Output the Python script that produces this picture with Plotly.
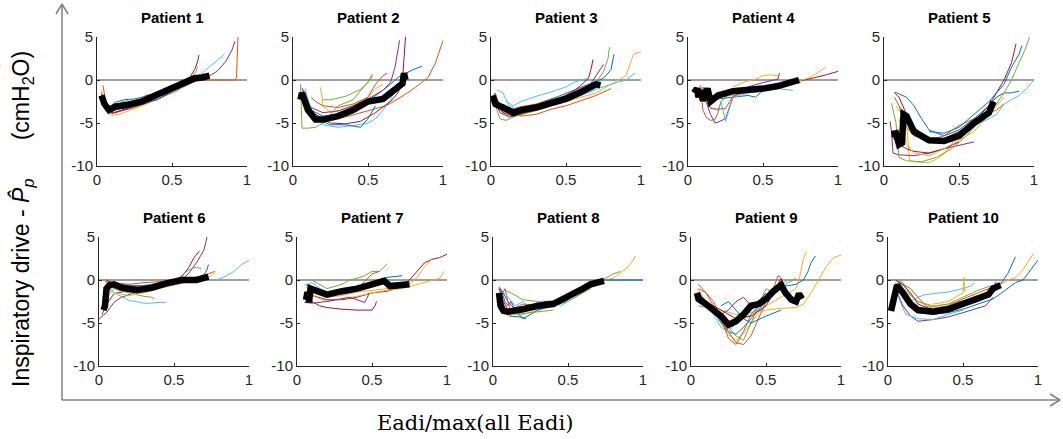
import plotly.graph_objects as go

W, H = 1063, 439
COLORS = ['#0072BD', '#D95319', '#EDB120', '#7E2F8E', '#77AC30', '#4DBEEE', '#A2142F']

titles = ["Patient %d" % i for i in range(1, 11)]
x_ticks = [0, 0.5, 1]
x_ticktext = ["0", "0.5", "1"]
y_ticks = [5, 0, -5, -10]
y_ticktext = ["5", "0", "-5", "-10"]

# ---- mean (thick black) curves ----
p1_mean = ([0.03, 0.05, 0.08, 0.12, 0.2, 0.3, 0.4, 0.5, 0.6, 0.65, 0.7, 0.75],
           [-1.8, -2.8, -3.5, -3.1, -2.9, -2.5, -1.7, -1.0, -0.2, 0.2, 0.3, 0.5])
p2_mean = ([0.05, 0.06, 0.1, 0.15, 0.2, 0.3, 0.4, 0.5, 0.6, 0.65, 0.7, 0.73, 0.74, 0.75],
           [-2.3, -1.5, -3.5, -4.6, -4.6, -4.2, -3.5, -2.5, -2.2, -1.5, -1.0, -0.4, 0.8, 0.0])
p3_mean = ([0.01, 0.03, 0.08, 0.15, 0.2, 0.3, 0.4, 0.5, 0.6, 0.65, 0.7, 0.73],
           [-1.8, -2.8, -3.2, -3.8, -3.5, -3.2, -2.7, -2.2, -1.4, -1.0, -0.5, -0.6])
p4_mean = ([0.04, 0.06, 0.07, 0.08, 0.1, 0.13, 0.15, 0.2, 0.3, 0.4, 0.5, 0.6, 0.7, 0.74],
           [-1.5, -1.0, -2.0, -1.2, -2.4, -1.0, -2.5, -1.8, -1.3, -1.2, -1.0, -0.7, -0.2, 0.0])
p5_mean = ([0.05, 0.08, 0.1, 0.12, 0.13, 0.15, 0.2, 0.3, 0.4, 0.5, 0.6, 0.7, 0.73],
           [-6.3, -6.2, -7.5, -7.3, -4.0, -4.2, -6.0, -7.0, -7.1, -6.5, -5.0, -3.8, -2.5])
p6_mean = ([0.03, 0.04, 0.05, 0.07, 0.1, 0.15, 0.25, 0.35, 0.45, 0.55, 0.65, 0.72, 0.73],
           [-3.5, -3.0, -1.0, -0.6, -0.5, -0.9, -1.2, -0.9, -0.4, 0.0, 0.0, 0.2, 0.4])
p7_mean = ([0.06, 0.07, 0.08, 0.09, 0.12, 0.2, 0.3, 0.4, 0.5, 0.58, 0.62, 0.7, 0.75],
           [-2.3, -1.4, -2.6, -1.0, -1.2, -1.7, -1.3, -1.0, -0.5, -0.1, -0.7, -0.6, -0.5])
p8_mean = ([0.04, 0.05, 0.07, 0.1, 0.2, 0.3, 0.4, 0.5, 0.6, 0.65, 0.7, 0.74],
           [-1.5, -3.0, -3.6, -3.7, -3.4, -3.0, -2.8, -2.0, -1.0, -0.5, -0.2, -0.1])
p9_mean = ([0.04, 0.05, 0.1, 0.15, 0.2, 0.25, 0.3, 0.35, 0.4, 0.45, 0.5, 0.55, 0.6, 0.63, 0.67, 0.7, 0.72, 0.74],
           [-1.5, -2.2, -2.8, -3.5, -4.2, -5.2, -4.8, -4.0, -3.0, -2.8, -2.2, -1.3, -0.6, -1.5, -2.3, -2.5, -1.6, -2.2])
p10_mean = ([0.02, 0.04, 0.06, 0.1, 0.15, 0.2, 0.3, 0.4, 0.5, 0.6, 0.67, 0.7, 0.75],
            [-3.6, -2.0, -0.6, -1.5, -2.8, -3.5, -3.7, -3.4, -2.8, -2.2, -1.7, -1.0, -0.6])

# ---- individual breaths (thin coloured lines): (x, y, colour index) ----
p1_lines = [
    ([0.03, 0.05, 0.08, 0.12, 0.18, 0.25, 0.3, 0.38, 0.45, 0.5, 0.55], [-1.5, -2.6, -3.3, -2.6, -2.3, -2.2, -2.0, -1.6, -1.8, -1.2, -1.0], 0),
    ([0.04, 0.06, 0.1, 0.15, 0.25, 0.35, 0.45, 0.55, 0.65, 0.75, 0.85, 0.92, 0.93, 0.935, 0.94], [-0.6, -2.8, -3.8, -3.6, -3.2, -2.6, -1.6, -0.8, -0.1, 0, 0, 0, 0.3, 3.0, 5.0], 1),
    ([0.03, 0.06, 0.1, 0.15, 0.22, 0.3, 0.4, 0.5, 0.55], [-1.2, -3.0, -4.1, -4.0, -3.5, -3.0, -2.2, -1.5, -1.2], 2),
    ([0.04, 0.07, 0.12, 0.2, 0.3, 0.4, 0.5, 0.6, 0.7, 0.75, 0.8, 0.86, 0.9, 0.92], [-1.8, -3.6, -3.8, -3.4, -2.8, -2.3, -1.4, -0.6, 0.2, 0.5, 1.0, 2.2, 3.5, 4.5], 3),
    ([0.03, 0.06, 0.1, 0.16, 0.2, 0.25, 0.35, 0.45, 0.55, 0.6, 0.64, 0.66, 0.67], [-1.5, -3.0, -3.6, -2.6, -2.4, -2.7, -2.4, -1.5, -0.7, -0.2, 0.5, 1.0, 1.6], 4),
    ([0.04, 0.08, 0.12, 0.2, 0.3, 0.4, 0.5, 0.6, 0.7, 0.75, 0.8, 0.85], [-2.0, -3.4, -3.3, -2.9, -2.5, -1.8, -1.2, -0.5, 0.8, 1.5, 2.2, 3.0], 5),
    ([0.03, 0.06, 0.1, 0.2, 0.3, 0.4, 0.5, 0.56, 0.6, 0.62, 0.65, 0.67, 0.68], [-1.7, -3.2, -3.9, -3.3, -2.6, -1.9, -1.0, -0.4, 0.0, 0.3, 1.2, 2.1, 2.9], 6),
    ([0.05, 0.08, 0.15, 0.25, 0.35, 0.4, 0.43, 0.5, 0.6], [-2.2, -3.1, -3.0, -2.8, -2.4, -2.3, -2.0, -1.3, -0.5], 0),
    ([0.05, 0.1, 0.2, 0.28, 0.32, 0.38, 0.45, 0.55], [-2.4, -3.6, -3.1, -2.5, -1.8, -1.6, -1.4, -0.3], 1),
]
p2_lines = [
    ([0.05, 0.08, 0.12, 0.2, 0.3, 0.4, 0.5, 0.6, 0.65, 0.7, 0.75, 0.8, 0.86], [-1.5, -2.5, -3.5, -4.2, -4.0, -3.5, -2.5, -1.2, -0.5, 0.3, 0.8, 1.2, 1.6], 0),
    ([0.04, 0.08, 0.15, 0.25, 0.35, 0.45, 0.55, 0.62, 0.7, 0.78, 0.85, 0.9, 0.95, 1.0], [-1.5, -3.0, -4.3, -4.6, -4.3, -3.8, -3.3, -3.0, -2.2, -1.3, -0.4, 0.3, 2.0, 4.6], 1),
    ([0.18, 0.19, 0.2, 0.25, 0.3, 0.4, 0.5, 0.55, 0.6], [-0.8, -1.5, -3.0, -3.8, -3.6, -3.0, -2.0, -1.0, -0.5], 2),
    ([0.06, 0.08, 0.12, 0.2, 0.3, 0.4, 0.5, 0.6, 0.65, 0.68, 0.7, 0.71], [-0.9, -2.0, -3.2, -3.8, -3.6, -3.0, -2.2, -1.2, -0.3, 1.5, 3.5, 4.6], 3),
    ([0.05, 0.06, 0.1, 0.15, 0.2, 0.25, 0.3, 0.4, 0.45, 0.5, 0.53], [-0.5, -5.6, -5.6, -5.5, -5.0, -4.0, -3.0, -2.3, -1.3, -0.2, 0.7], 4),
    ([0.08, 0.12, 0.2, 0.3, 0.4, 0.5, 0.55, 0.6, 0.65, 0.68], [-1.0, -3.5, -5.2, -5.5, -5.3, -5.0, -4.5, -3.5, -2.3, -1.2], 5),
    ([0.07, 0.1, 0.15, 0.25, 0.35, 0.45, 0.55, 0.65, 0.7, 0.73, 0.74, 0.75], [-1.2, -3.0, -4.0, -5.0, -5.1, -4.8, -3.8, -2.5, -1.5, 0.0, 2.5, 5.0], 6),
    ([0.1, 0.15, 0.25, 0.35, 0.45, 0.5, 0.55], [-2.5, -4.5, -5.2, -5.2, -5.5, -4.5, -3.0], 0),
    ([0.2, 0.25, 0.3, 0.35, 0.4, 0.45, 0.5, 0.53], [-2.3, -2.3, -2.1, -1.9, -1.5, -1.1, -0.3, 0.5], 4),
    ([0.12, 0.15, 0.2, 0.3, 0.4, 0.5, 0.55, 0.6, 0.63], [-2.0, -2.5, -3.0, -3.2, -2.8, -2.0, -0.5, 0.5, 0.8], 1),
]
p3_lines = [
    ([0.02, 0.05, 0.1, 0.15, 0.25, 0.35, 0.45, 0.55, 0.65, 0.75, 0.8, 0.82], [-1.5, -2.5, -3.5, -3.8, -3.2, -2.5, -1.9, -1.2, -0.5, 0.2, 1.2, 3.0], 0),
    ([0.02, 0.06, 0.12, 0.2, 0.3, 0.4, 0.5, 0.6, 0.7, 0.8, 0.85, 0.9, 0.95, 1.0], [-2.0, -3.5, -4.2, -4.0, -3.5, -3.0, -2.5, -2.0, -1.5, -0.5, 0.0, 0.5, 3.0, 3.3], 2),
    ([0.03, 0.05, 0.08, 0.12, 0.2, 0.3, 0.4, 0.5, 0.6, 0.7], [-1.5, -3.0, -3.8, -3.5, -3.1, -2.8, -2.3, -1.8, -1.0, -0.3], 1),
    ([0.02, 0.06, 0.12, 0.2, 0.3, 0.4, 0.5, 0.6, 0.65, 0.7, 0.75], [-2.2, -3.8, -4.3, -4.0, -3.5, -3.0, -2.3, -1.5, -0.8, 0.5, 1.8], 3),
    ([0.03, 0.06, 0.1, 0.15, 0.25, 0.35, 0.45, 0.55, 0.65, 0.7, 0.75, 0.78, 0.79], [-3.0, -4.5, -4.7, -4.3, -3.8, -3.3, -2.6, -1.8, -1.0, -0.3, 1.0, 2.5, 3.8], 4),
    ([0.04, 0.08, 0.12, 0.2, 0.3, 0.4, 0.5, 0.6, 0.7, 0.8, 0.9, 0.96], [-1.2, -1.5, -3.0, -3.6, -3.3, -2.8, -2.4, -1.8, -1.1, -0.5, 0.0, 0.8], 5),
    ([0.03, 0.08, 0.15, 0.25, 0.35, 0.45, 0.55, 0.6, 0.65, 0.67, 0.68], [-2.2, -3.8, -4.2, -3.6, -3.0, -2.2, -1.3, -0.6, 0.2, 1.5, 2.4], 6),
    ([0.1, 0.15, 0.2, 0.3, 0.4, 0.5, 0.55, 0.6, 0.65], [-2.5, -3.0, -2.5, -1.9, -1.4, -0.8, -0.3, 0.0, 0.2], 5),
    ([0.1, 0.2, 0.3, 0.4, 0.5, 0.6, 0.7, 0.8], [-3.2, -4.2, -4.0, -3.4, -3.0, -2.4, -1.8, -1.0], 1),
]
p4_lines = [
    ([0.05, 0.1, 0.15, 0.2, 0.3, 0.4, 0.5, 0.6, 0.7, 0.8, 0.9, 1.0], [-1.3, -1.5, -2.2, -1.8, -1.5, -1.3, -1.0, -0.7, -0.3, 0.1, 0.5, 1.0], 6),
    ([0.08, 0.1, 0.15, 0.2, 0.3, 0.45, 0.6, 0.7, 0.8, 0.85, 0.92], [-1.0, -1.5, -2.5, -2.0, -1.8, -1.2, -0.8, -0.3, 0.2, 0.7, 1.5], 2),
    ([0.08, 0.09, 0.1, 0.12, 0.15, 0.18, 0.2, 0.22, 0.25, 0.28], [-0.6, -2.0, -3.5, -4.3, -4.7, -4.6, -3.8, -2.5, -2.0, -1.5], 1),
    ([0.1, 0.12, 0.15, 0.18, 0.2, 0.25, 0.3, 0.4, 0.5, 0.58, 0.6, 0.61], [-0.8, -2.5, -4.0, -5.0, -4.9, -4.5, -2.0, -0.8, -0.3, 0.0, 0.1, 0.8], 3),
    ([0.05, 0.08, 0.12, 0.2, 0.3, 0.4, 0.45, 0.5, 0.55, 0.65, 0.75], [-1.2, -1.8, -2.0, -2.2, -2.0, -1.8, -2.0, -1.2, -0.9, -0.6, -0.3], 0),
    ([0.12, 0.15, 0.2, 0.22, 0.25, 0.3, 0.35, 0.4, 0.5, 0.6, 0.7], [-1.5, -3.2, -3.5, -2.5, -4.8, -2.0, -1.8, -1.5, -1.3, -1.0, -1.2], 5),
    ([0.12, 0.15, 0.2, 0.3, 0.4, 0.5, 0.55], [-2.0, -1.8, -1.7, -1.5, -1.4, -1.1, -0.9], 4),
    ([0.3, 0.35, 0.4, 0.45, 0.5, 0.55, 0.6], [-0.8, -0.4, -0.1, 0.1, 0.5, 0.6, 0.5], 2),
    ([0.06, 0.09, 0.12, 0.15, 0.2, 0.25, 0.3, 0.35], [-1.2, -0.9, -2.5, -3.3, -3.4, -3.3, -1.9, -1.6], 1),
]
p5_lines = [
    ([0.07, 0.1, 0.15, 0.2, 0.25, 0.3, 0.4, 0.5, 0.6, 0.7, 0.75, 0.8, 0.85, 0.9], [-1.4, -1.6, -2.0, -3.0, -4.5, -5.8, -6.5, -5.8, -4.5, -3.0, -2.0, -1.5, -1.5, -1.3], 0),
    ([0.07, 0.1, 0.15, 0.2, 0.3, 0.4, 0.5, 0.6, 0.7, 0.75, 0.8, 0.85, 0.88], [-1.5, -2.0, -4.0, -5.5, -7.0, -6.8, -6.0, -4.8, -3.0, -1.5, 0.0, 2.0, 4.2], 6),
    ([0.08, 0.1, 0.15, 0.17, 0.2, 0.25, 0.3, 0.35, 0.4, 0.45, 0.5], [-3.0, -3.5, -5.0, -9.3, -9.5, -9.6, -9.6, -9.2, -8.6, -7.5, -6.0], 2),
    ([0.04, 0.05, 0.06, 0.1, 0.2, 0.3, 0.4, 0.5, 0.6], [-4.8, -6.0, -8.5, -8.7, -8.8, -8.5, -8.0, -7.6, -7.2], 3),
    ([0.05, 0.08, 0.1, 0.15, 0.25, 0.35, 0.45, 0.55, 0.65, 0.75, 0.8, 0.85, 0.9, 0.94, 0.97], [-2.7, -5.0, -9.0, -9.4, -9.5, -9.0, -8.0, -6.5, -4.5, -2.8, -1.5, 0.0, 2.0, 3.5, 5.0], 4),
    ([0.1, 0.15, 0.2, 0.3, 0.4, 0.5, 0.6, 0.7, 0.75, 0.8, 0.85, 0.9, 0.95, 1.0], [-3.0, -4.0, -6.0, -7.2, -7.0, -6.5, -5.3, -4.5, -4.0, -2.8, -2.3, -1.8, -1.0, 0.0], 5),
    ([0.07, 0.1, 0.15, 0.2, 0.3, 0.4, 0.5, 0.6, 0.7, 0.75, 0.8], [-2.0, -3.0, -5.5, -6.5, -7.0, -6.5, -5.3, -4.5, -3.8, -3.5, -2.8], 1),
    ([0.05, 0.1, 0.15, 0.2, 0.3, 0.4, 0.5], [-6.5, -7.5, -8.0, -8.3, -8.5, -8.0, -7.2], 6),
    ([0.3, 0.4, 0.5, 0.6, 0.7, 0.8, 0.85, 0.9, 0.92], [-6.0, -6.2, -5.5, -4.0, -2.5, -0.5, 1.5, 3.0, 4.0], 0),
    ([0.1, 0.15, 0.2, 0.3, 0.4, 0.5, 0.6, 0.7, 0.8], [-4.5, -7.5, -8.5, -8.8, -8.0, -7.0, -6.0, -4.0, -2.0], 2),
]
p6_lines = [
    ([0.0, 0.02, 0.05, 0.1, 0.15, 0.2, 0.3, 0.4, 0.5, 0.55, 0.6, 0.65, 0.7, 0.72], [-4.6, -4.2, -3.8, -2.6, -2.0, -1.7, -1.0, -0.6, -0.3, 0.0, 0.8, 2.0, 3.5, 5.0], 3),
    ([0.02, 0.05, 0.1, 0.2, 0.3, 0.4, 0.5, 0.55, 0.6, 0.63, 0.67], [-4.0, -2.8, -1.6, -1.2, -0.8, -0.5, -0.2, 0.3, 1.5, 2.5, 3.4], 6),
    ([0.05, 0.1, 0.2, 0.3, 0.4, 0.5, 0.6, 0.7, 0.75, 0.8, 0.85, 0.9, 0.95, 1.0], [-2.0, -1.0, -0.8, -0.6, -0.4, -0.2, 0.0, 0.0, 0.0, 0.1, 0.5, 1.0, 1.8, 2.3], 5),
    ([0.05, 0.1, 0.15, 0.2, 0.25, 0.3, 0.35, 0.4, 0.45], [-1.0, -1.5, -2.0, -2.4, -2.5, -2.7, -2.7, -2.6, -2.6], 5),
    ([0.05, 0.1, 0.15, 0.2, 0.25, 0.3, 0.35, 0.37], [-0.5, -1.0, -1.3, -1.5, -1.7, -1.9, -2.0, -2.2], 4),
    ([0.05, 0.1, 0.2, 0.3, 0.4, 0.5, 0.6, 0.7, 0.75, 0.78], [-0.3, -1.5, -1.8, -1.5, -1.0, -0.6, -0.2, 0.2, 0.5, 1.0], 2),
    ([0.05, 0.1, 0.2, 0.3, 0.4, 0.5, 0.6, 0.65, 0.7, 0.72, 0.73], [0.0, -0.5, -0.6, -0.7, -0.5, -0.3, 0.0, 0.3, 0.6, 1.2, 1.8], 0),
    ([0.04, 0.1, 0.2, 0.3, 0.4, 0.5, 0.6, 0.7, 0.75, 0.77], [-0.2, -0.3, -0.5, -0.3, -0.2, 0.0, 0.2, 0.5, 0.8, 1.0], 1),
    ([0.5, 0.55, 0.6, 0.65, 0.68], [-0.2, 0.5, 1.2, 1.5, 1.3], 4),
    ([0.05, 0.1, 0.2, 0.3, 0.4], [0.0, -0.5, -0.7, -0.9, -0.8], 6),
]
p7_lines = [
    ([0.05, 0.1, 0.2, 0.3, 0.4, 0.5, 0.6, 0.7, 0.75, 0.8, 0.85, 0.9, 0.95, 1.0], [-1.5, -1.8, -2.3, -2.3, -2.0, -1.5, -1.3, -0.8, 0.0, 1.0, 2.0, 2.4, 2.6, 3.0], 6),
    ([0.06, 0.1, 0.2, 0.3, 0.4, 0.5, 0.6, 0.7, 0.75, 0.8, 0.85, 0.9], [-0.8, -1.5, -2.0, -1.8, -1.4, -1.2, -1.0, -0.7, -0.5, 0.3, 1.5, 2.5], 2),
    ([0.1, 0.2, 0.3, 0.4, 0.5, 0.6, 0.7, 0.8, 0.9, 0.95, 0.98], [-1.8, -2.5, -2.2, -1.9, -1.5, -1.2, -1.0, -0.5, 0.0, 0.2, 1.0], 2),
    ([0.05, 0.1, 0.15, 0.2, 0.25, 0.3, 0.4, 0.5, 0.52, 0.53], [-2.0, -2.5, -3.0, -3.2, -3.3, -3.4, -3.5, -3.5, -3.0, -2.5], 6),
    ([0.1, 0.15, 0.2, 0.3, 0.35, 0.4, 0.45, 0.5, 0.55, 0.58, 0.6], [0.0, -0.5, -1.0, -0.5, 0.0, 0.2, 0.5, 1.0, 1.0, 1.5, 1.9], 4),
    ([0.05, 0.1, 0.2, 0.3, 0.35, 0.4, 0.45, 0.47, 0.48], [-2.6, -2.7, -2.5, -2.2, -2.0, -2.3, -2.6, -2.0, -1.5], 3),
    ([0.06, 0.1, 0.2, 0.3, 0.4, 0.5, 0.6, 0.7], [-0.5, -1.0, -1.5, -1.2, -0.8, -0.3, 0.3, 0.5], 0),
    ([0.05, 0.1, 0.2, 0.25, 0.3, 0.4, 0.5, 0.55, 0.6], [-0.6, -0.3, -1.6, -1.8, -1.4, -1.0, -0.5, -0.3, 0.2], 5),
    ([0.1, 0.2, 0.3, 0.4, 0.45, 0.5, 0.55], [-1.2, -1.8, -1.6, -1.0, -0.2, 0.7, 1.0], 1),
]
p8_lines = [
    ([0.05, 0.07, 0.1, 0.15, 0.2, 0.3, 0.4, 0.5, 0.6, 0.7, 0.75, 0.8, 0.85, 0.9, 0.93, 0.95], [-1.5, -3.0, -4.2, -4.3, -4.0, -3.5, -3.0, -2.2, -1.0, -0.3, 0.0, 0.2, 0.8, 1.5, 2.2, 2.8], 2),
    ([0.08, 0.12, 0.2, 0.3, 0.35, 0.4, 0.5, 0.55, 0.6, 0.65, 0.7, 0.75, 0.8, 0.85], [-1.2, -1.5, -2.3, -2.5, -2.8, -3.0, -2.5, -2.0, -1.5, -1.0, -0.2, 0.2, 0.7, 1.0], 4),
    ([0.05, 0.1, 0.15, 0.2, 0.3, 0.4, 0.5, 0.6, 0.65, 0.7, 0.8, 0.9, 1.0], [-1.0, -2.5, -3.5, -4.5, -3.5, -3.0, -2.3, -1.0, -0.4, 0.0, 0.0, 0.0, 0.0], 0),
    ([0.04, 0.06, 0.08, 0.1, 0.12, 0.15, 0.2, 0.3, 0.4, 0.5], [-0.8, -1.5, -2.5, -3.0, -2.5, -3.5, -3.6, -3.3, -2.8, -2.2], 3),
    ([0.05, 0.08, 0.1, 0.12, 0.15, 0.2, 0.3, 0.4, 0.45], [-2.0, -1.0, -2.5, -3.8, -3.2, -2.8, -3.0, -2.5, -2.7], 1),
    ([0.06, 0.1, 0.15, 0.2, 0.25, 0.3, 0.4, 0.45, 0.5], [-1.2, -2.0, -3.0, -2.5, -3.3, -2.5, -2.4, -3.0, -2.5], 5),
    ([0.04, 0.07, 0.1, 0.15, 0.2, 0.3, 0.35, 0.4], [-1.0, -2.5, -3.5, -3.3, -3.1, -2.8, -2.5, -2.6], 6),
    ([0.1, 0.15, 0.2, 0.3, 0.4], [-3.8, -4.0, -3.9, -3.7, -3.5], 4),
    ([0.05, 0.08, 0.12, 0.18, 0.22], [-1.5, -3.5, -4.2, -4.3, -4.5], 0),
]
p9_lines = [
    ([0.04, 0.08, 0.12, 0.18, 0.22, 0.26, 0.3, 0.36, 0.4, 0.45, 0.5, 0.55, 0.6, 0.65, 0.7, 0.72, 0.74, 0.75, 0.77], [-1.0, -2.0, -3.0, -4.0, -5.5, -6.5, -7.0, -6.0, -5.0, -3.8, -3.0, -2.5, -2.0, -1.5, -1.0, 0.0, 1.5, 2.5, 3.3], 2),
    ([0.05, 0.1, 0.15, 0.2, 0.25, 0.3, 0.35, 0.4, 0.45, 0.5, 0.55, 0.6, 0.7, 0.75, 0.78, 0.8, 0.83], [-1.5, -2.5, -3.5, -5.0, -6.0, -6.3, -5.5, -4.5, -3.5, -2.5, -1.5, -0.8, -0.5, 0.0, 1.0, 2.0, 2.8], 0),
    ([0.1, 0.15, 0.2, 0.3, 0.4, 0.5, 0.6, 0.7, 0.75, 0.8, 0.85, 0.9, 0.95, 1.0], [-2.5, -3.0, -3.5, -4.0, -3.8, -3.5, -3.3, -3.2, -2.8, -1.5, 0.0, 1.5, 2.6, 2.9], 2),
    ([0.05, 0.1, 0.15, 0.2, 0.25, 0.3, 0.35, 0.4, 0.45, 0.5, 0.55, 0.58, 0.6], [-0.5, -1.5, -3.0, -4.5, -6.0, -7.3, -7.5, -6.5, -4.5, -2.5, -1.0, 0.5, 0.3], 1),
    ([0.05, 0.1, 0.15, 0.2, 0.3, 0.35, 0.4, 0.45, 0.5, 0.55, 0.6, 0.65, 0.7], [-3.0, -3.2, -3.6, -4.5, -6.5, -7.0, -5.0, -3.0, -1.0, -1.5, -0.8, -0.3, 0.2], 4),
    ([0.05, 0.1, 0.15, 0.2, 0.25, 0.3, 0.35, 0.4, 0.45, 0.5], [-2.0, -2.5, -3.5, -4.0, -3.5, -2.5, -2.0, -3.0, -2.5, -1.5], 3),
    ([0.06, 0.1, 0.15, 0.2, 0.25, 0.3, 0.4, 0.5, 0.55, 0.6, 0.65], [-1.5, -2.5, -4.0, -5.5, -6.0, -5.0, -4.0, -2.5, -1.2, -0.5, 0.0], 5),
    ([0.05, 0.1, 0.15, 0.2, 0.25, 0.3, 0.35, 0.4, 0.45, 0.5], [-1.0, -1.5, -2.5, -4.5, -6.8, -7.5, -6.0, -4.0, -3.0, -2.0], 1),
    ([0.15, 0.2, 0.3, 0.4, 0.5, 0.55, 0.6, 0.62], [-3.0, -3.5, -4.5, -4.2, -3.0, -1.5, 0.2, -0.5], 6),
    ([0.2, 0.25, 0.3, 0.35, 0.4, 0.5, 0.6], [-3.0, -2.5, -3.5, -4.5, -5.0, -4.2, -3.5], 0),
]
p10_lines = [
    ([0.05, 0.1, 0.15, 0.2, 0.3, 0.4, 0.5, 0.6, 0.7, 0.75, 0.8, 0.85, 0.9, 0.95, 1.0], [-0.5, -1.5, -3.0, -3.8, -4.0, -3.8, -3.4, -2.8, -2.2, -1.6, -1.0, -0.3, 0.0, 1.2, 2.3], 0),
    ([0.05, 0.1, 0.2, 0.3, 0.4, 0.5, 0.6, 0.7, 0.75, 0.8, 0.85, 0.9, 0.95, 0.97], [-0.3, -1.0, -2.5, -3.0, -2.8, -2.4, -2.0, -1.5, -0.5, 0.0, 0.3, 1.2, 2.5, 3.1], 2),
    ([0.05, 0.1, 0.2, 0.3, 0.4, 0.5, 0.6, 0.7, 0.75, 0.8, 0.85], [-0.4, -1.5, -3.2, -3.6, -3.5, -3.0, -2.5, -1.5, -0.5, 0.8, 2.7], 0),
    ([0.05, 0.1, 0.15, 0.2, 0.3, 0.4, 0.5, 0.6, 0.65, 0.7], [-1.0, -3.0, -4.2, -4.8, -4.6, -4.3, -3.8, -3.3, -3.0, -2.0], 3),
    ([0.05, 0.07, 0.1, 0.15, 0.2, 0.25, 0.3, 0.4, 0.5, 0.55, 0.58], [-0.5, -0.4, -1.5, -2.5, -2.0, -1.7, -1.6, -1.4, -1.0, -0.7, -0.3], 5),
    ([0.05, 0.1, 0.15, 0.2, 0.25, 0.3, 0.4, 0.5, 0.6, 0.7, 0.75], [0.0, -0.5, -1.0, -2.0, -3.0, -3.3, -3.0, -2.2, -1.5, -0.8, -0.3], 1),
    ([0.05, 0.1, 0.15, 0.2, 0.3, 0.4, 0.5, 0.6, 0.7], [0.0, -0.3, -1.8, -2.5, -3.1, -2.8, -2.0, -1.2, -0.6], 4),
    ([0.05, 0.1, 0.15, 0.2, 0.3, 0.4, 0.5, 0.6, 0.7, 0.72], [0.0, -0.6, -1.5, -2.8, -3.5, -3.3, -2.8, -2.0, -1.0, -0.2], 6),
    ([0.3, 0.4, 0.45, 0.5, 0.505, 0.51, 0.52], [-2.8, -2.5, -2.0, -1.5, 0.3, -1.3, -1.2], 2),
    ([0.05, 0.08, 0.12, 0.2, 0.3, 0.4, 0.5], [-1.0, -2.5, -4.0, -4.5, -4.6, -4.0, -3.5], 5),
]

patients = [
    (p1_lines, p1_mean), (p2_lines, p2_mean), (p3_lines, p3_mean), (p4_lines, p4_mean), (p5_lines, p5_mean),
    (p6_lines, p6_mean), (p7_lines, p7_mean), (p8_lines, p8_mean), (p9_lines, p9_mean), (p10_lines, p10_mean),
]

# ---- layout geometry (pixels) ----
row_lefts = [[97, 293, 491, 688, 884], [99, 297, 493, 691, 888]]
panel_w = 150
row_tops = [37, 237]
panel_h = 129

TICKFONT = dict(family='Arial, Liberation Sans', size=15, color='#262626')

fig = go.Figure()
layout = dict(width=W, height=H, margin=dict(l=0, r=0, t=0, b=0),
              paper_bgcolor='white', plot_bgcolor='white', showlegend=False)
annotations = []

for i, (lines, mean) in enumerate(patients):
    r, c = divmod(i, 5)
    left = row_lefts[r][c]
    top = row_tops[r]
    n = i + 1
    xa = 'x' if n == 1 else 'x%d' % n
    ya = 'y' if n == 1 else 'y%d' % n
    xkey = 'xaxis' if n == 1 else 'xaxis%d' % n
    ykey = 'yaxis' if n == 1 else 'yaxis%d' % n
    layout[xkey] = dict(domain=[left / W, (left + panel_w) / W], range=[0, 1], anchor=ya,
                        showline=True, linecolor='#262626', linewidth=1, ticks='inside', ticklen=3,
                        tickcolor='#262626', tickvals=x_ticks, ticktext=x_ticktext, showgrid=False,
                        zeroline=False, tickfont=TICKFONT, automargin=False)
    layout[ykey] = dict(domain=[1 - (top + panel_h) / H, 1 - top / H], range=[-10, 5], anchor=xa,
                        showline=True, linecolor='#262626', linewidth=1, ticks='inside', ticklen=3,
                        tickcolor='#262626', tickvals=y_ticks, ticktext=y_ticktext, showgrid=False,
                        zeroline=False, tickfont=TICKFONT, automargin=False)
    fig.add_trace(go.Scatter(x=[0, 1], y=[0, 0], mode='lines', line=dict(color='#7f7f7f', width=1.5),
                             xaxis=xa, yaxis=ya, hoverinfo='skip'))
    for (lx, ly, ci) in lines:
        fig.add_trace(go.Scatter(x=lx, y=ly, mode='lines', line=dict(color=COLORS[ci], width=1),
                                 xaxis=xa, yaxis=ya))
    fig.add_trace(go.Scatter(x=mean[0], y=mean[1], mode='lines', line=dict(color='black', width=6.5),
                             xaxis=xa, yaxis=ya))
    annotations.append(dict(text='<b>%s</b>' % titles[i], xref='paper', yref='paper',
                            x=(left + panel_w / 2) / W, y=1 - (top - 19) / H, xanchor='center', yanchor='middle',
                            showarrow=False, font=dict(family='Arial, Liberation Sans', size=15, color='black')))

# outer axis titles
annotations.append(dict(text='Inspiratory drive - <i>P\u0302</i><sub><i>p</i></sub>\u00a0\u00a0\u00a0\u00a0\u00a0\u00a0(cmH<sub>2</sub>O)',
                        xref='paper', yref='paper', x=22 / W, y=1 - 219 / H, textangle=-90,
                        xanchor='center', yanchor='middle', showarrow=False,
                        font=dict(family='Arial, Liberation Sans', size=23, color='black')))
annotations.append(dict(text='Eadi/max(all Eadi)', xref='paper', yref='paper', x=475 / W, y=1 - 423 / H,
                        xanchor='center', yanchor='middle', showarrow=False,
                        font=dict(family='DejaVu Serif', size=21, color='black')))

def px(x, y):
    return x / W, 1 - y / H

shapes = []
gray = dict(color='#808080', width=1.5)
for (x0, y0, x1, y1) in [(62, 400, 62, 4), (56, 14, 62, 4), (68, 14, 62, 4),
                         (62, 400, 1060, 400), (1050, 394, 1060, 400), (1050, 406, 1060, 400)]:
    a, b = px(x0, y0)
    c2, d = px(x1, y1)
    shapes.append(dict(type='line', xref='paper', yref='paper', x0=a, y0=b, x1=c2, y1=d, line=gray))

layout['annotations'] = annotations
layout['shapes'] = shapes
fig.update_layout(**layout)
fig.write_html("out.html", config={'displayModeBar': False},
               post_script="document.body.style.margin='0';document.body.style.padding='0';document.body.style.overflow='hidden';")
